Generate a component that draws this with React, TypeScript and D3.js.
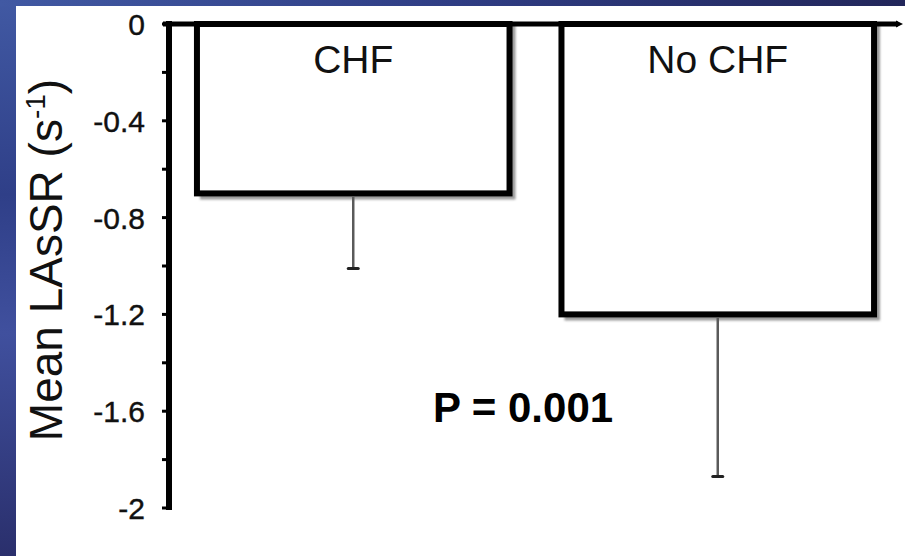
import React from "react";
import * as d3 from "d3";

const categories = ["CHF", "No CHF"];
const means = [-0.7, -1.2];
const errors = [0.31, 0.67];
const majorTicks = [0, -0.4, -0.8, -1.2, -1.6, -2];
const minorTicks = [-0.2, -0.6, -1.0, -1.4, -1.8];
const pText = "P = 0.001";

const W = 905;
const H = 556;
const FONT = "'Liberation Sans', Arial, Helvetica, sans-serif";

export default function App() {
  const y = d3.scaleLinear().domain([0, -2]).range([24, 508]);
  const x = d3
    .scaleBand<string>()
    .domain(categories)
    .range([171, 900])
    .paddingInner(0.1425)
    .paddingOuter(0.0712);
  const axisX = 169;
  const tickFmt = (v: number) =>
    (v === 0 ? "0" : v === -2 ? "-2" : d3.format(".1f")(v)).replace("\u2212", "-");

  return (
    <svg
      width={W}
      height={H}
      style={{ position: "absolute", left: 0, top: 0, display: "block" }}
    >
      <defs>
        <linearGradient id="bg" x1="0" y1="0" x2="1" y2="1">
          <stop offset="0%" stopColor="#4159a3" />
          <stop offset="45%" stopColor="#31418a" />
          <stop offset="100%" stopColor="#22275c" />
        </linearGradient>
        <linearGradient id="bgLeft" x1="0" y1="0" x2="0" y2="1">
          <stop offset="0%" stopColor="#4159a3" />
          <stop offset="35%" stopColor="#2f3f88" />
          <stop offset="60%" stopColor="#40509e" />
          <stop offset="100%" stopColor="#2a2f6c" />
        </linearGradient>
        <linearGradient id="bgTop" x1="0" y1="0" x2="1" y2="0">
          <stop offset="0%" stopColor="#4159a3" />
          <stop offset="50%" stopColor="#2f3d84" />
          <stop offset="100%" stopColor="#22265a" />
        </linearGradient>
        <filter id="blur" x="-10%" y="-10%" width="120%" height="120%">
          <feGaussianBlur stdDeviation="1.2" />
        </filter>
      </defs>
      <rect x={0} y={0} width={W} height={H} fill="url(#bg)" />
      <rect x={0} y={0} width={16} height={H} fill="url(#bgLeft)" />
      <rect x={0} y={0} width={W} height={6} fill="url(#bgTop)" />
      <rect x={16} y={6} width={W - 16} height={H - 6} fill="#ffffff" />

      {categories.map((c, i) => {
        const x0 = x(c)!;
        const bw = x.bandwidth();
        const yb = y(means[i]);
        const y0 = y(0);
        const ye = y(means[i] - errors[i]);
        return (
          <g key={c}>
            <path
              d={`M${x0 + bw + 3},${y0} L${x0 + bw + 3},${yb + 3} L${x0 + 3},${yb + 3}`}
              fill="none"
              stroke="#9a9a9a"
              strokeWidth={6}
              filter="url(#blur)"
            />
            <rect
              x={x0}
              y={y0}
              width={bw}
              height={yb - y0}
              fill="#ffffff"
              stroke="#000"
              strokeWidth={6}
            />
            <line
              x1={x0 + bw / 2}
              x2={x0 + bw / 2}
              y1={yb + 3}
              y2={ye}
              stroke="#5a5a5a"
              strokeWidth={2.5}
            />
            <line
              x1={x0 + bw / 2 - 5}
              x2={x0 + bw / 2 + 5}
              y1={ye}
              y2={ye}
              stroke="#222"
              strokeWidth={3}
              strokeLinecap="round"
            />
            <text
              x={x0 + bw / 2}
              y={73}
              textAnchor="middle"
              fontFamily={FONT}
              fontSize={39}
              fill="#111"
            >
              {c}
            </text>
          </g>
        );
      })}

      <line x1={163} x2={898} y1={y(0)} y2={y(0)} stroke="#000" strokeWidth={5} />
      <path d={`M896,${y(0) - 3.5} L903,${y(0)} L896,${y(0) + 3.5} Z`} fill="#000" />

      <line x1={axisX} x2={axisX} y1={21} y2={510} stroke="#000" strokeWidth={6} />
      {[...majorTicks, ...minorTicks].map((t) => (
        <line
          key={"t" + t}
          x1={axisX - 7}
          x2={axisX}
          y1={y(t)}
          y2={y(t)}
          stroke="#000"
          strokeWidth={3}
        />
      ))}
      {majorTicks.map((t) => (
        <text
          key={"l" + t}
          x={145}
          y={y(t) + 11}
          textAnchor="end"
          fontFamily={FONT}
          fontSize={30}
          fill="#111"
          stroke="#111"
          strokeWidth={0.4}
        >
          {tickFmt(t)}
        </text>
      ))}

      <text
        transform="translate(62,260) rotate(-90)"
        textAnchor="middle"
        fontFamily={FONT}
        fontSize={46}
        fill="#111"
      >
        Mean LAsSR (s
        <tspan fontSize={28} dy={-17}>
          -1
        </tspan>
        <tspan dy={17}>)</tspan>
      </text>

      <text
        x={523}
        y={422}
        textAnchor="middle"
        fontFamily={FONT}
        fontSize={42}
        fontWeight="bold"
        fill="#000"
      >
        {pText}
      </text>
    </svg>
  );
}
